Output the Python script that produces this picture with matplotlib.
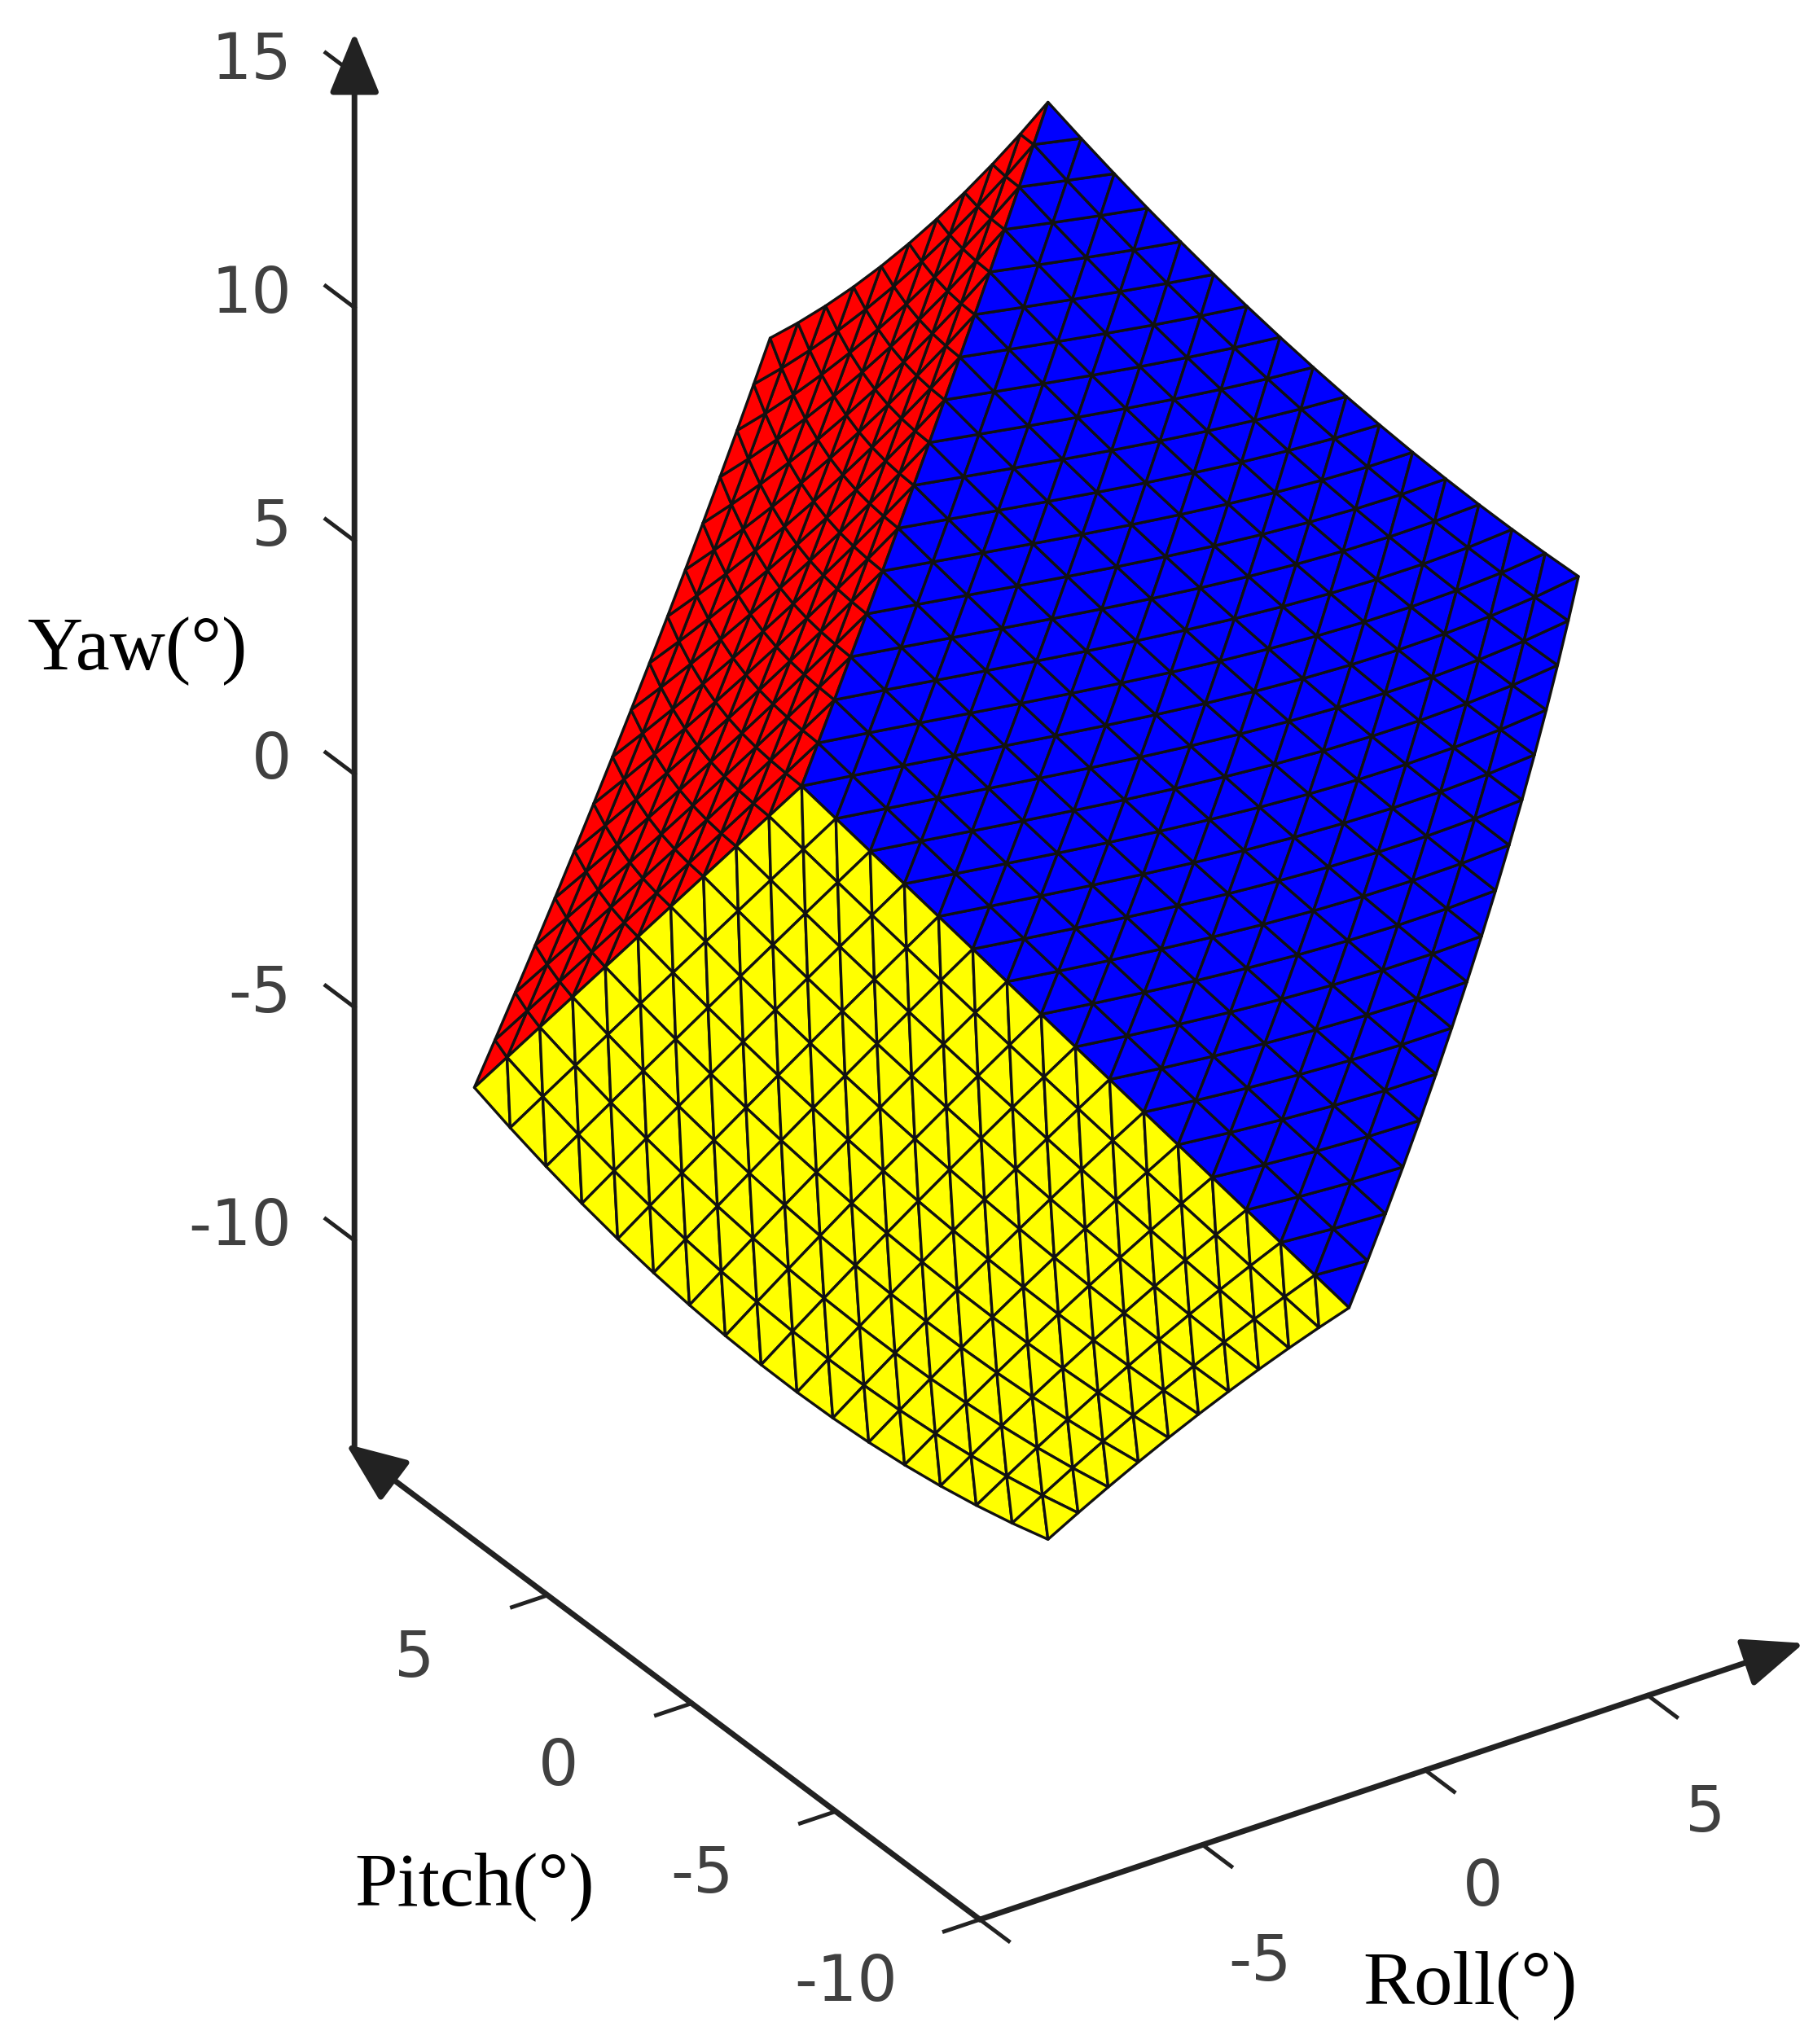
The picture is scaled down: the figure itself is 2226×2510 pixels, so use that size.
import numpy as np
import matplotlib
matplotlib.use("Agg")
import matplotlib.pyplot as plt
from matplotlib.collections import PolyCollection

# ---- data (roll, pitch, yaw) in degrees ----
yaw_ticks = [-10, -5, 0, 5, 10, 15]
pitch_ticks = [-10, -5, 0, 5]
roll_ticks = [-5, 0, 5]
# corners of the three boundary faces
corner_M = (-3.0, 7.0, -0.32)
corner_T = (2.53, 7.0, 12.57)
corner_TL = (-3.71, 7.0, 9.51)
corner_L = (-10.35, 7.0, -4.43)
corner_B = (-8.47, -10.0, -6.84)
corner_R = (-1.71, -10.0, -4.04)
corner_BR = (3.44, -10.0, 9.99)
face_red = [corner_M, corner_L, corner_TL, corner_T]
face_blue = [corner_M, corner_R, corner_BR, corner_T]
face_yellow = [corner_M, corner_L, corner_B, corner_R]
# mid-edge bulge of each boundary edge (d_roll, d_pitch, d_yaw): v=0, u=1, v=1, u=0
bow_red = [(0, 0, 0), (0.2, 0, 0), (0, 0, -0.5), (0.1, 0, 0)]
bow_blue = [(0, 0, 0), (0.4, 0, 0), (0, 0, -0.6), (0.1, 0, 0)]
bow_yellow = [(0, 0, 0), (0, 0, -1.1), (0, 0, 0.2), (0, 0, 0)]
face_sizes = {"red": (10, 16), "blue": (16, 16), "yellow": (10, 16)}

# oblique projection of the axes box
O = np.array([868.0, 669.8])
UR = np.array([34.0, -11.4])
UP = np.array([-22.0, -16.5])
UY = np.array([0.0, -35.6])
R0, P0, Y0 = -10.0, -10.0, -14.5
P_AX = 11.7


def proj(r, p, y):
    return O + r * UR + p * UP + y * UY


def face_tris(c, bows, nu, nv):
    c = [np.array(x, float) for x in c]
    bw = [np.array(x, float) for x in bows]
    u = np.linspace(0, 1, nu + 1)[:, None, None]
    v = np.linspace(0, 1, nv + 1)[None, :, None]
    P = (1 - u) * (1 - v) * c[0] + u * (1 - v) * c[1] + u * v * c[2] + (1 - u) * v * c[3]
    P = P + 4 * u * (1 - u) * ((1 - v) * bw[0] + v * bw[2]) + 4 * v * (1 - v) * (u * bw[1] + (1 - u) * bw[3])
    S = proj(P[..., 0:1], P[..., 1:2], P[..., 2:3])
    tris = []
    for i in range(nu):
        for j in range(nv):
            a, b, cc, d = S[i, j], S[i + 1, j], S[i + 1, j + 1], S[i, j + 1]
            tris.append([a, b, cc]); tris.append([a, cc, d])
    return tris


fig = plt.figure(figsize=(22.26, 25.10), dpi=100)
ax = fig.add_axes([0, 0, 1, 1])
ax.set_xlim(0, 1384); ax.set_ylim(1560, 0); ax.axis("off")

for face, bows, col, key in [(face_red, bow_red, "#ff0000", "red"), (face_blue, bow_blue, "#0000ff", "blue"),
                             (face_yellow, bow_yellow, "#ffff00", "yellow")]:
    nu, nv = face_sizes[key]
    ax.add_collection(PolyCollection(face_tris(face, bows, nu, nv), facecolors=col,
                                     edgecolors="#111111", linewidths=2.4))

tick_col = "#404040"
lw = 5
arrow = dict(arrowstyle="-|>,head_length=1.1,head_width=0.45", lw=lw, color="#222222",
             mutation_scale=42, shrinkA=0, shrinkB=0)
# yaw axis
a, b = proj(R0, P_AX, Y0), proj(R0, P_AX, 15.9)
ax.annotate("", xy=b, xytext=a, arrowprops=arrow)
for t in yaw_ticks:
    q = proj(R0, P_AX, t); q2 = q + UP * 1.0
    ax.plot([q[0], q2[0]], [q[1], q2[1]], color="#222222", lw=3.5)
    ax.text(q[0] - 48, q[1] - 10, str(t), ha="right", va="center", fontsize=56, color=tick_col)
# pitch axis
a, b = proj(R0, P0, Y0), proj(R0, 12.0, Y0)
ax.annotate("", xy=b, xytext=a, arrowprops=arrow)
for t in pitch_ticks:
    q = proj(R0, t, Y0); q2 = q - UR * 0.8
    ax.plot([q[0], q2[0]], [q[1], q2[1]], color="#222222", lw=3.5)
    s = proj(R0 - 3.0, t, Y0 - 0.4)
    ax.text(s[0], s[1], str(t), ha="center", va="center", fontsize=56, color=tick_col)
# roll axis
a, b = proj(R0, P0, Y0), proj(8.5, P0, Y0)
ax.annotate("", xy=b, xytext=a, arrowprops=arrow)
for t in [-10] + roll_ticks:
    q = proj(t, P0, Y0); q2 = q - UP * 1.0
    ax.plot([q[0], q2[0]], [q[1], q2[1]], color="#222222", lw=3.5)
for t in roll_ticks:
    s = proj(t, P0 - 2.0, Y0 - 1.6)
    ax.text(s[0], s[1], str(t), ha="center", va="center", fontsize=56, color=tick_col)

lab = dict(fontsize=68, family="Liberation Serif", color="black", ha="center", va="center")
ax.text(105, 497, "Yaw(°)", **lab)
ax.text(362, 1440, "Pitch(°)", **lab)
ax.text(1122, 1515, "Roll(°)", **lab)

fig.savefig("out.png", dpi=100)
